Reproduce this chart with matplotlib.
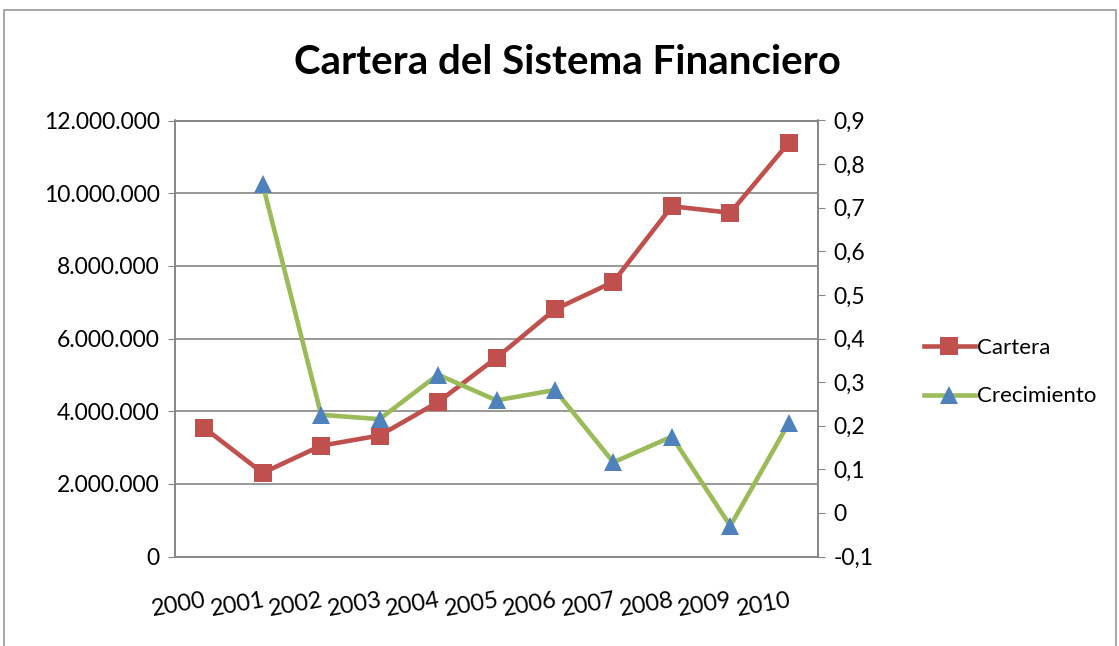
import numpy as np
import matplotlib.pyplot as plt
from matplotlib.patches import Rectangle
from matplotlib.ticker import FuncFormatter

# --- data ---
years = ['2000', '2001', '2002', '2003', '2004', '2005', '2006', '2007', '2008', '2009', '2010']
cartera = [3540000, 2300000, 3050000, 3330000, 4250000, 5470000, 6800000, 7560000, 9640000, 9460000, 11390000]
crecimiento = [np.nan, 0.754, 0.225, 0.215, 0.317, 0.258, 0.282, 0.116, 0.175, -0.030, 0.206]

red = '#C0504D'
green = '#9BBB59'
blue = '#4F81BD'
grid_c = '#868686'

plt.rcParams['font.family'] = ['Lato', 'DejaVu Sans']

fig = plt.figure(figsize=(11.19, 6.46), dpi=100)
ax = fig.add_axes([175 / 1119, 1 - 556.5 / 646, (818 - 175) / 1119, (556.5 - 120.5) / 646])
ax2 = ax.twinx()

x = np.arange(len(years))
ax.plot(x, cartera, color=red, lw=3.3, marker='s', markersize=13, markeredgewidth=0,
        label='Cartera', zorder=3)
ax2.plot(x, crecimiento, color=green, lw=3.3, marker='^', markersize=13, markerfacecolor=blue,
         markeredgewidth=0, label='Crecimiento', zorder=3)

ax.set_xlim(-0.5, len(years) - 0.5)
ax.set_ylim(0, 12000000)
ax.set_yticks(np.arange(0, 12000001, 2000000))
ax.yaxis.set_major_formatter(FuncFormatter(lambda v, p: f'{int(v):,}'.replace(',', '.')))
ax2.set_ylim(-0.1, 0.9)
ax2.set_yticks(np.arange(-0.1, 0.91, 0.1))
ax2.yaxis.set_major_formatter(FuncFormatter(lambda v, p: f'{v:.1f}'.rstrip('0').rstrip('.').replace('.', ',') if abs(v) > 1e-9 else '0'))

ax.set_xticks(x)
ax.set_xticklabels(years, rotation=10, fontsize=17, ha='right', rotation_mode='anchor')
ax.tick_params(axis='x', length=0, pad=24)
ax.tick_params(axis='y', labelsize=16.5, length=5, color=grid_c, pad=6)
ax2.tick_params(axis='y', labelsize=16.5, length=5, color=grid_c, pad=6)

ax.grid(axis='y', color=grid_c, lw=1.2)
ax.set_axisbelow(True)
for a in (ax, ax2):
    for s in a.spines.values():
        s.set_color(grid_c)
        s.set_linewidth(1.2)

fig.text(0.507, 1 - 62 / 646, 'Cartera del Sistema Financiero', ha='center', va='center',
         fontsize=29, fontweight='bold')

h1, l1 = ax.get_legend_handles_labels()
h2, l2 = ax2.get_legend_handles_labels()
fig.legend(h1 + h2, l1 + l2, loc='center left', bbox_to_anchor=(908 / 1119, 1 - 372 / 646),
           frameon=False, fontsize=16, handlelength=2.3, handletextpad=0.1, labelspacing=1.3,
           borderpad=0.2)

fig.patches.append(Rectangle((4 / 1119, -0.01), 1112 / 1119, 1 - 10 / 646 + 0.01,
                             transform=fig.transFigure, fill=False, edgecolor='#9a9a9a', lw=1.2))

fig.savefig('out.png', dpi=100)
